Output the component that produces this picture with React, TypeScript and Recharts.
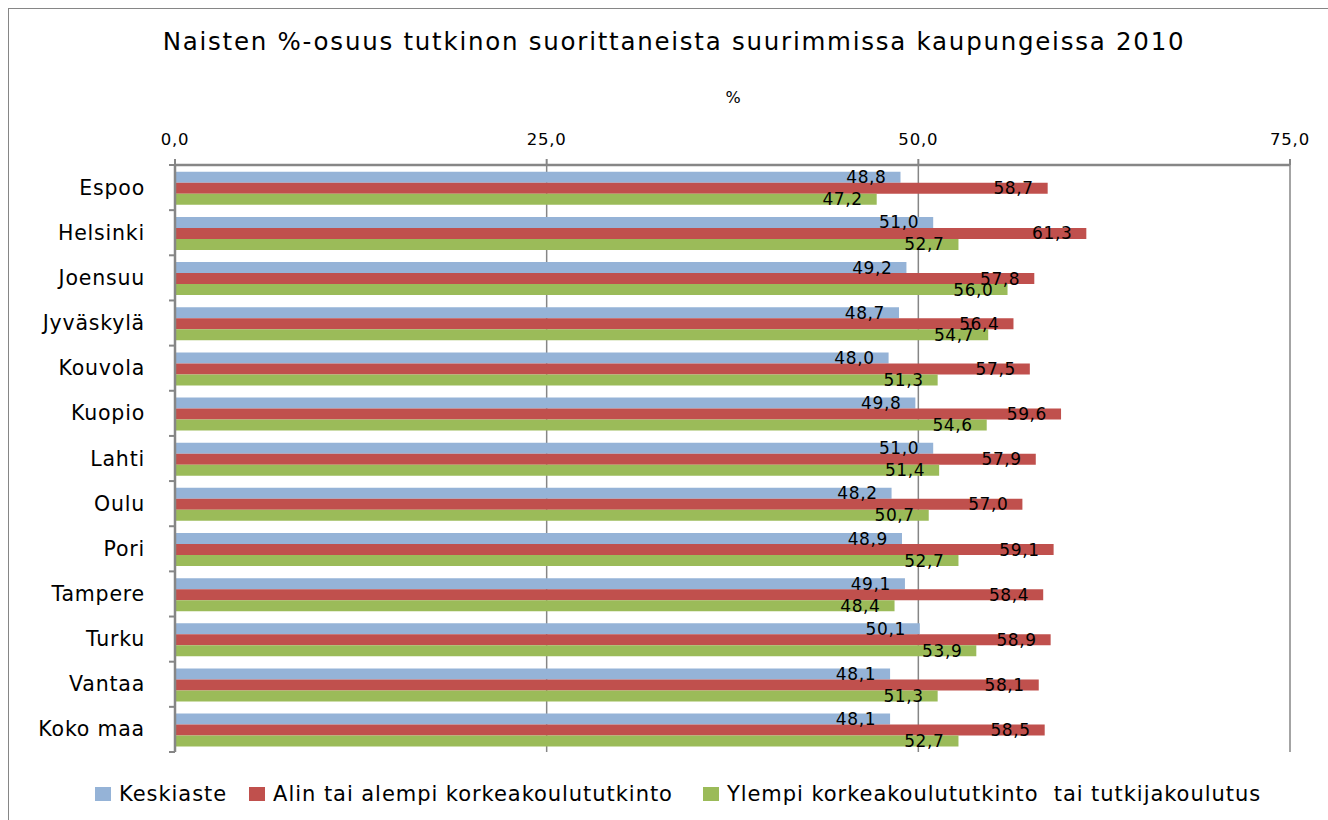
import React from 'react';
import { BarChart, Bar, XAxis, YAxis, CartesianGrid, LabelList } from 'recharts';

const categories = ['Espoo', 'Helsinki', 'Joensuu', 'Jyväskylä', 'Kouvola', 'Kuopio', 'Lahti', 'Oulu', 'Pori', 'Tampere', 'Turku', 'Vantaa', 'Koko maa'];
const keskiaste = [48.8, 51.0, 49.2, 48.7, 48.0, 49.8, 51.0, 48.2, 48.9, 49.1, 50.1, 48.1, 48.1];
const alin = [58.7, 61.3, 57.8, 56.4, 57.5, 59.6, 57.9, 57.0, 59.1, 58.4, 58.9, 58.1, 58.5];
const ylempi = [47.2, 52.7, 56.0, 54.7, 51.3, 54.6, 51.4, 50.7, 52.7, 48.4, 53.9, 51.3, 52.7];
const xTicks = [0, 25, 50, 75];

const series = [
  { key: 'k', name: 'Keskiaste', color: '#95B3D7', values: keskiaste },
  { key: 'a', name: 'Alin tai alempi korkeakoulututkinto', color: '#C0504D', values: alin },
  { key: 'y', name: 'Ylempi korkeakoulututkinto  tai tutkijakoulutus', color: '#9BBB59', values: ylempi },
];

const data = categories.map((c, i) => ({ name: c, k: keskiaste[i], a: alin[i], y: ylempi[i] }));

const W = 1328;
const H = 820;
const PLOT_LEFT = 175;
const PLOT_RIGHT = 1290;
const PLOT_TOP = 165;
const PLOT_BOTTOM = 752;
const X_AXIS_H = 40;
const Y_AXIS_W = 175;
const BAND = (PLOT_BOTTOM - PLOT_TOP) / categories.length;
const FONT = '"DejaVu Sans", Verdana, sans-serif';
const GRAY = '#868686';

const fmt = (v: number) => Number(v).toFixed(1).replace('.', ',');

const YTick = (props: any) => {
  const { x, y, payload, index } = props;
  const axisX = x + 30;
  return (
    <g>
      <line x1={axisX - 6} x2={axisX} y1={y - BAND / 2} y2={y - BAND / 2} stroke={GRAY} strokeWidth={2} />
      {index === categories.length - 1 && (
        <line x1={axisX - 6} x2={axisX} y1={y + BAND / 2} y2={y + BAND / 2} stroke={GRAY} strokeWidth={2} />
      )}
      <text x={x} y={y} dy={7} textAnchor="end" fontSize={20.5} fontFamily={FONT} fill="#000" letterSpacing={0.8}>
        {payload.value}
      </text>
    </g>
  );
};

export default function App() {
  return (
    <div style={{ position: 'absolute', left: 0, top: 0, width: W, height: H, background: '#fff', overflow: 'hidden', fontFamily: FONT }}>
      <div style={{ position: 'absolute', left: 8, top: 8, width: W, height: H, border: `1px solid ${GRAY}`, borderRight: 'none', borderBottom: 'none' }} />
      <div style={{ position: 'absolute', left: 10, top: 27, width: W, textAlign: 'center', fontSize: 24.5, letterSpacing: 1.75, color: '#000', whiteSpace: 'nowrap' }}>
        Naisten %-osuus tutkinon suorittaneista suurimmissa kaupungeissa 2010
      </div>
      <div style={{ position: 'absolute', left: 720, top: 88, width: 26, textAlign: 'center', fontSize: 16, color: '#000' }}>%</div>
      <BarChart
        width={W}
        height={H}
        data={data}
        layout="vertical"
        margin={{ top: PLOT_TOP - X_AXIS_H, bottom: H - PLOT_BOTTOM, left: PLOT_LEFT - Y_AXIS_W, right: W - PLOT_RIGHT }}
        barCategoryGap="15%"
        barGap={0}
        style={{ position: 'absolute', left: 0, top: 0 }}
      >
        <CartesianGrid vertical horizontal={false} stroke={GRAY} strokeWidth={1.5} />
        <XAxis
          type="number"
          orientation="top"
          domain={[0, 75]}
          ticks={xTicks}
          tickFormatter={fmt}
          height={X_AXIS_H}
          axisLine={{ stroke: GRAY, strokeWidth: 2.5 }}
          tickLine={{ stroke: GRAY, strokeWidth: 2 }}
          tickSize={6}
          tickMargin={14}
          tick={{ fill: '#000', fontSize: 16.5, fontFamily: FONT, letterSpacing: 0.8 }}
          interval={0}
        />
        <YAxis
          type="category"
          dataKey="name"
          width={Y_AXIS_W}
          axisLine={{ stroke: GRAY, strokeWidth: 2.5 }}
          tickLine={false}
          tickSize={0}
          tickMargin={30}
          tick={<YTick />}
          interval={0}
        />
        {series.map((s) => (
          <Bar key={s.key} dataKey={s.key} name={s.name} fill={s.color} isAnimationActive={false}>
            <LabelList dataKey={s.key} position="insideRight" offset={14} formatter={fmt} fill="#000" fontSize={17} fontFamily={FONT} letterSpacing={0.6} />
          </Bar>
        ))}
      </BarChart>
      <div style={{ position: 'absolute', left: 95, top: 782, display: 'flex', fontSize: 21, color: '#000', letterSpacing: 0.95, whiteSpace: 'nowrap' }}>
        {series.map((s, i) => (
          <div key={s.key} style={{ display: 'flex', alignItems: 'center', marginRight: i === 0 ? 22 : 30 }}>
            <span style={{ display: 'inline-block', width: 16, height: 14, background: s.color, marginRight: 8 }} />
            <span style={{ whiteSpace: 'pre' }}>{s.name}</span>
          </div>
        ))}
      </div>
    </div>
  );
}
